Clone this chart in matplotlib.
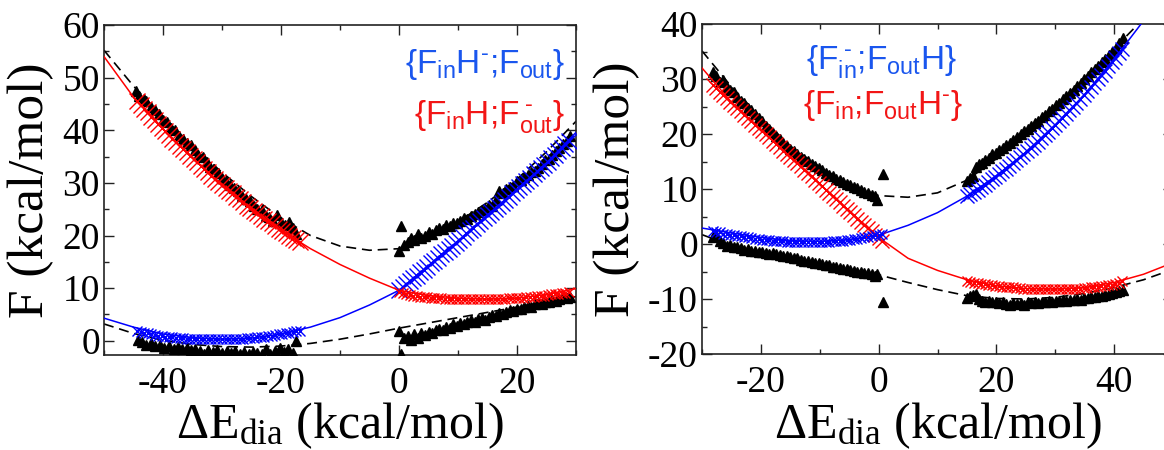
import matplotlib
matplotlib.use("Agg")
import matplotlib.pyplot as plt
from matplotlib.ticker import MultipleLocator

plt.rcParams['font.family'] = ['Liberation Serif', 'DejaVu Serif']
plt.rcParams['mathtext.fontset'] = 'custom'
plt.rcParams['mathtext.rm'] = 'Liberation Serif'
plt.rcParams['mathtext.sf'] = 'Liberation Sans'
plt.rcParams['mathtext.it'] = 'Liberation Serif:italic'
plt.rcParams['axes.unicode_minus'] = False

# ---------------- LEFT PANEL DATA ----------------
L_grid = [-50, -45, -40, -35, -30, -25, -20, -15, -10, -5, 0, 5, 10, 15, 20, 25, 30]
L_red_line = [54.0, 46.3, 40.2, 34.7, 29.6, 25.0, 21.0, 17.5, 14.5, 11.9, 9.6, 8.6, 8.1, 7.9, 8.1, 8.8, 9.9]
L_blue_line = [4.3, 2.6, 1.3, 0.6, 0.3, 0.5, 1.3, 2.6, 4.4, 6.8, 9.6, 14.3, 19.0, 23.9, 28.8, 33.8, 39.6]
L_dash_up = [55.2, 48.4, 42.5, 37.0, 32.0, 27.4, 23.3, 20.0, 18.0, 17.2, 17.5, 19.6, 22.6, 26.3, 30.7, 35.9, 41.7]
L_dash_lo = [3.2, 1.4, 0.1, -0.7, -1.1, -1.2, -1.0, -0.5, 0.3, 1.3, 2.4, 3.4, 4.4, 5.4, 6.4, 7.4, 8.4]

L_left_x = [-44.4, -43.8, -43.2, -42.6, -42.0, -41.4, -40.8, -40.2, -39.6, -39.0, -38.4, -37.8,
            -37.2, -36.6, -36.0, -35.4, -34.8, -34.2, -33.6, -33.0, -32.4, -31.8, -31.2, -30.6,
            -30.0, -29.4, -28.8, -28.2, -27.6, -27.0, -26.4, -25.8, -25.2, -24.6, -24.0, -23.4,
            -22.8, -22.2, -21.6, -21.0, -20.4, -19.8, -19.2, -18.6, -18.0, -17.4, -16.8]
L_red_cross_left = [45.6, 44.8, 44.1, 43.4, 42.6, 41.9, 41.2, 40.4, 39.8, 39.1, 38.4, 37.8,
                    37.1, 36.5, 35.8, 35.1, 34.5, 33.9, 33.3, 32.7, 32.0, 31.4, 30.8, 30.2,
                    29.6, 29.1, 28.5, 28.0, 27.4, 26.9, 26.3, 25.7, 25.2, 24.7, 24.2, 23.7,
                    23.2, 22.8, 22.3, 21.8, 21.3, 20.9, 20.4, 20.0, 19.6, 19.2, 18.8]
L_blue_cross_left = [1.8, 1.6, 1.5, 1.4, 1.3, 1.1, 1.0, 0.9, 0.8, 0.7, 0.7, 0.6,
                     0.5, 0.5, 0.4, 0.4, 0.4, 0.3, 0.3, 0.3, 0.3, 0.3, 0.3, 0.3,
                     0.3, 0.3, 0.3, 0.3, 0.4, 0.4, 0.4, 0.5, 0.5, 0.6, 0.7, 0.7,
                     0.8, 0.9, 1.0, 1.1, 1.2, 1.3, 1.4, 1.5, 1.6, 1.8, 1.9]

L_right_x = [0.0, 0.6, 1.2, 1.8, 2.4, 3.0, 3.6, 4.2, 4.8, 5.4, 6.0, 6.6, 7.2, 7.8, 8.4, 9.0,
             9.6, 10.2, 10.8, 11.4, 12.0, 12.6, 13.2, 13.8, 14.4, 15.0, 15.6, 16.2, 16.8, 17.4,
             18.0, 18.6, 19.2, 19.8, 20.4, 21.0, 21.6, 22.2, 22.8, 23.4, 24.0, 24.6, 25.2, 25.8,
             26.4, 27.0, 27.6, 28.2, 28.8]
L_blue_cross_right = [9.6, 10.2, 10.7, 11.3, 11.9, 12.4, 13.0, 13.5, 14.1, 14.7, 15.2, 15.8, 16.4,
                      16.9, 17.5, 18.1, 18.6, 19.2, 19.8, 20.4, 21.0, 21.5, 22.1, 22.7, 23.3, 23.9,
                      24.5, 25.1, 25.7, 26.2, 26.8, 27.4, 28.0, 28.6, 29.2, 29.8, 30.4, 31.0, 31.6,
                      32.2, 32.8, 33.4, 34.0, 34.7, 35.3, 36.0, 36.7, 37.3, 38.0]
L_red_cross_right = [9.3, 9.0, 8.9, 8.7, 8.6, 8.5, 8.4, 8.4, 8.3, 8.2, 8.2, 8.1, 8.1, 8.0, 8.0,
                     8.0, 7.9, 7.9, 7.9, 7.9, 7.9, 7.9, 7.9, 7.9, 7.9, 7.9, 7.9, 8.0, 8.0, 8.0,
                     8.0, 8.1, 8.1, 8.1, 8.2, 8.2, 8.3, 8.3, 8.4, 8.5, 8.5, 8.6, 8.7, 8.8, 8.8,
                     8.9, 9.0, 9.1, 9.2]

L_tri_ul_x = [-44.5, -44.0, -43.3, -42.8, -42.0, -41.3, -40.7, -40.0, -39.3, -38.6, -38.0, -37.3,
              -36.6, -36.0, -35.3, -34.6, -34.0, -33.3, -32.6, -32.0, -31.3, -30.6, -30.0, -29.3,
              -28.6, -28.0, -27.3, -26.6, -26.0, -25.3, -24.6, -24.0, -23.3, -22.6, -22.0, -21.3,
              -20.6, -20.0, -19.3, -18.6, -18.0, -17.4]
L_tri_ul_y = [47.5, 46.5, 46.0, 45.6, 44.5, 43.8, 43.0, 42.0, 41.5, 40.4, 40.0, 39.0,
              38.4, 37.6, 37.2, 36.2, 35.3, 35.0, 34.0, 33.0, 32.6, 31.8, 31.0, 30.3,
              29.6, 29.0, 28.5, 27.6, 27.0, 26.5, 25.6, 25.0, 24.8, 23.8, 23.5, 22.8,
              23.9, 22.5, 22.0, 22.6, 21.5, 20.3]
L_tri_ll_x = [-44.2, -43.5, -42.8, -42.0, -41.3, -40.5, -39.8, -39.0, -38.2, -37.5, -36.8, -36.0,
              -35.2, -34.5, -33.8, -33.0, -32.3, -31.5, -30.8, -30.0, -29.2, -28.5, -27.8, -27.0,
              -26.2, -25.5, -24.8, -24.0, -23.2, -22.5, -21.8, -21.0, -20.2, -19.5, -18.8, -18.0,
              -17.4]
L_tri_ll_y = [0.2, -0.3, -0.8, -0.5, -1.0, -0.8, -1.3, -1.0, -1.5, -1.2, -1.6, -1.4,
              -1.8, -1.5, -2.0, -2.6, -1.8, -2.2, -1.7, -2.3, -1.9, -2.4, -2.0, -2.5,
              -2.2, -2.6, -2.1, -2.4, -2.5, -1.5, -2.6, -2.0, -1.3, -2.2, -1.6, -2.3,
              -0.1]
L_tri_r_x = [0.0, 0.4, 0.9, 1.5, 2.0, 2.6, 3.2, 3.8, 4.4, 5.0, 5.6, 6.2, 6.8, 7.4, 8.0, 8.6,
             9.2, 9.8, 10.4, 11.0, 11.6, 12.2, 12.8, 13.4, 14.0, 14.6, 15.2, 15.8, 16.4, 17.0,
             17.6, 18.2, 18.8, 19.4, 20.0, 20.6, 21.2, 21.8, 22.4, 23.0, 23.6, 24.2, 24.8, 25.4,
             26.0, 26.6, 27.2, 27.8, 28.4, 29.0]
L_tri_lr_y = [1.8, -2.6, 0.5, 0.9, 0.2, 1.3, 0.5, 1.5, 1.1, 1.7, 1.4, 2.0, 2.3, 2.0, 2.7, 2.5,
              3.1, 2.9, 3.4, 3.2, 3.5, 3.9, 3.6, 4.1, 4.3, 4.0, 4.6, 4.9, 4.7, 5.2,
              5.0, 5.5, 5.8, 5.6, 6.1, 6.0, 6.4, 6.7, 6.5, 6.9, 7.1, 6.9, 7.4, 7.3,
              7.7, 7.6, 8.0, 8.3, 8.1, 8.4]
L_tri_ur_y = [17.1, 21.8, 18.2, 18.8, 19.6, 19.2, 20.3, 19.6, 20.0, 20.6, 20.2, 21.0, 21.5, 21.2,
              22.0, 21.8, 22.4, 22.3, 22.8, 23.3, 23.2, 23.8, 24.1, 24.5, 24.9, 25.0, 25.8, 25.7,
              26.8, 28.4, 28.1, 28.8, 29.3, 29.4, 30.3, 30.6, 31.2, 31.5, 32.0, 32.3, 32.8, 33.5,
              34.4, 34.5, 35.3, 36.0, 36.6, 37.3, 38.0, 39.0]

# ---------------- RIGHT PANEL DATA ----------------
R_grid = [-30, -25, -20, -15, -10, -5, 0, 5, 10, 15, 20, 25, 30, 35, 40, 45, 50]
R_red_line = [32.0, 25.8, 20.8, 15.8, 10.9, 6.0, 1.2, -2.6, -4.8, -6.5, -7.6, -8.1, -8.2, -7.9, -7.0, -5.5, -3.4]
R_blue_line = [2.9, 2.0, 1.2, 0.6, 0.5, 0.8, 1.6, 3.4, 5.7, 8.7, 12.4, 16.7, 21.7, 27.2, 33.6, 40.6, 48.0]
R_dash_up = [35.1, 28.6, 23.0, 17.8, 14.0, 10.9, 8.8, 8.5, 9.3, 11.6, 15.5, 20.0, 25.0, 30.2, 35.5, 41.0, 47.0]
R_dash_lo = [1.7, -0.3, -1.7, -2.8, -3.8, -4.7, -5.6, -7.0, -8.3, -9.4, -9.9, -10.0, -9.7, -9.0, -7.9, -6.5, -4.6]

R_left_x = [-28.2, -27.6, -27.0, -26.4, -25.8, -25.2, -24.6, -24.0, -23.4, -22.8, -22.2, -21.6,
            -21.0, -20.4, -19.8, -19.2, -18.6, -18.0, -17.4, -16.8, -16.2, -15.6, -15.0, -14.4,
            -13.8, -13.2, -12.6, -12.0, -11.4, -10.8, -10.2, -9.6, -9.0, -8.4, -7.8, -7.2,
            -6.6, -6.0, -5.4, -4.8, -4.2, -3.6, -3.0, -2.4, -1.8, -1.2, -0.6, 0.0, 0.6]
R_red_cross_left = [28.9, 28.3, 27.7, 27.1, 26.5, 25.9, 25.3, 24.7, 24.1, 23.5, 22.9, 22.3,
                    21.7, 21.1, 20.6, 20.0, 19.4, 18.8, 18.2, 17.6, 17.0, 16.4, 15.8, 15.2,
                    14.7, 14.1, 13.5, 12.9, 12.3, 11.7, 11.1, 10.5, 9.9, 9.3, 8.8, 8.2,
                    7.6, 7.0, 6.4, 5.8, 5.2, 4.6, 4.0, 3.4, 2.9, 2.3, 1.7, 1.1, 0.6]
R_blue_cross_left = [2.4, 2.2, 2.1, 1.9, 1.8, 1.7, 1.6, 1.5, 1.4, 1.3, 1.2, 1.1,
                     1.0, 0.9, 0.8, 0.8, 0.7, 0.6, 0.6, 0.5, 0.5, 0.4, 0.4, 0.4,
                     0.3, 0.3, 0.3, 0.3, 0.3, 0.3, 0.4, 0.4, 0.4, 0.4, 0.5, 0.5,
                     0.6, 0.6, 0.7, 0.8, 0.9, 1.0, 1.1, 1.2, 1.3, 1.4, 1.6, 1.7, 1.9]

R_right_x = [15.0, 15.6, 16.2, 16.8, 17.4, 18.0, 18.6, 19.2, 19.8, 20.4, 21.0, 21.6, 22.2, 22.8,
             23.4, 24.0, 24.6, 25.2, 25.8, 26.4, 27.0, 27.6, 28.2, 28.8, 29.4, 30.0, 30.6, 31.2,
             31.8, 32.4, 33.0, 33.6, 34.2, 34.8, 35.4, 36.0, 36.6, 37.2, 37.8, 38.4, 39.0, 39.6,
             40.2, 40.8, 41.4]
R_blue_cross_right = [8.7, 9.1, 9.5, 9.9, 10.4, 10.8, 11.3, 11.8, 12.2, 12.7, 13.2, 13.7, 14.2, 14.7,
                      15.3, 15.8, 16.3, 16.9, 17.5, 18.0, 18.6, 19.2, 19.8, 20.4, 21.1, 21.7, 22.3,
                      23.0, 23.6, 24.3, 25.0, 25.7, 26.4, 27.1, 27.8, 28.5, 29.2, 30.0, 30.8, 31.5,
                      32.3, 33.1, 33.9, 34.7, 35.5]
R_red_cross_right = [-6.8, -6.9, -7.0, -7.1, -7.2, -7.3, -7.4, -7.5, -7.6, -7.7, -7.8, -7.8, -7.9,
                     -7.9, -8.0, -8.0, -8.1, -8.1, -8.1, -8.2, -8.2, -8.2, -8.2, -8.2, -8.2, -8.2,
                     -8.2, -8.2, -8.2, -8.2, -8.1, -8.1, -8.1, -8.0, -8.0, -7.9, -7.9, -7.8, -7.7,
                     -7.6, -7.5, -7.4, -7.2, -7.0, -6.7]

R_tri_l_x = [-28.2, -27.6, -27.0, -26.4, -25.8, -25.2, -24.6, -24.0, -23.4, -22.8, -22.2, -21.6,
             -21.0, -20.4, -19.8, -19.2, -18.6, -18.0, -17.4, -16.8, -16.2, -15.6, -15.0, -14.4,
             -13.8, -13.2, -12.6, -12.0, -11.4, -10.8, -10.2, -9.6, -9.0, -8.4, -7.8, -7.2,
             -6.6, -6.0, -5.4, -4.8, -4.2, -3.6, -3.0, -2.4, -1.8, -1.2, -0.6, -0.2, 0.7]
R_tri_ul_y = [31.3, 30.6, 29.4, 29.8, 28.6, 28.0, 27.6, 26.8, 26.0, 25.6, 24.8, 24.3,
              23.6, 23.0, 22.3, 21.5, 21.0, 20.2, 19.6, 19.1, 18.4, 17.9, 17.3, 16.9,
              16.4, 15.9, 15.5, 15.1, 14.6, 14.1, 13.8, 13.4, 13.0, 12.6, 12.3, 11.9,
              11.6, 11.3, 11.0, 10.7, 10.3, 10.1, 9.8, 9.4, 9.3, 9.0, 8.7, 8.0, 12.8]
R_tri_ll_y = [1.3, 1.6, 0.6, 0.2, -0.4, -0.2, -0.6, -0.5, -0.8, -1.0, -0.9, -1.2,
              -1.3, -1.5, -1.4, -1.6, -1.8, -1.7, -1.9, -2.0, -2.2, -2.1, -2.4, -2.5,
              -2.6, -2.9, -3.0, -3.0, -3.3, -3.4, -3.5, -3.6, -3.8, -3.9, -4.1, -4.2,
              -4.3, -4.5, -4.6, -4.7, -4.9, -5.0, -5.1, -5.3, -5.2, -5.5, -5.8, -5.4, -10.5]
R_tri_r_x = [15.0, 15.5, 16.0, 16.5, 17.0, 17.5, 18.1, 18.7, 19.3, 19.9, 20.5, 21.1, 21.7, 22.3,
             22.9, 23.5, 24.1, 24.7, 25.3, 25.9, 26.5, 27.1, 27.7, 28.3, 28.9, 29.5, 30.1, 30.7,
             31.3, 31.9, 32.5, 33.1, 33.7, 34.3, 34.9, 35.5, 36.1, 36.7, 37.3, 37.9, 38.5, 39.1,
             39.7, 40.3, 40.9, 41.5]
R_tri_ur_y = [11.4, 12.0, 12.3, 14.0, 14.6, 14.8, 15.2, 15.6, 16.3, 16.5, 17.1, 17.4, 18.0, 18.4,
              19.0, 19.4, 20.0, 20.5, 21.0, 21.4, 22.0, 22.4, 23.1, 23.5, 24.1, 24.6, 25.2, 25.7,
              26.3, 26.9, 27.5, 28.0, 28.8, 29.3, 30.0, 30.5, 31.2, 31.8, 32.4, 33.1, 33.7, 34.4,
              35.0, 35.6, 36.5, 37.5]
R_tri_lr_y = [-9.8, -9.4, -9.2, -9.0, -10.0, -10.4, -10.6, -10.3, -10.6, -10.5, -10.8, -10.6, -10.9,
              -11.0, -10.7, -10.9, -10.8, -11.0, -10.6, -10.8, -10.6, -10.7, -10.5, -10.6, -10.4,
              -10.5, -10.3, -10.4, -10.2, -10.3, -10.1, -10.2, -10.0, -10.1, -9.9, -9.8, -9.7,
              -9.6, -9.5, -9.4, -9.2, -9.1, -8.9, -8.7, -8.6, -8.4]

HY = '\u2010'   # short hyphen used as charge sign
SC = '\u037e'   # semicolon glyph without mathtext punctuation spacing
L_legend = [r'$\mathsf{\{F_{in}H^{' + HY + r'}' + SC + r'F_{out}\}}$',
            r'$\mathsf{\{F_{in}H' + SC + r'F_{out}^{\ ' + HY + r'}\}}$']
R_legend = [r'$\mathsf{\{F_{in}^{\ ' + HY + r'}' + SC + r'F_{out}H\}}$',
            r'$\mathsf{\{F_{in}' + SC + r'F_{out}H^{' + HY + r'}\}}$']
y_label = 'F (kcal/mol)'
x_label = r'ΔE$_{\mathrm{dia}}$ (kcal/mol)'

RED = '#ff0000'
BLUE = '#0000ff'
TXT_BLUE = '#1a56ee'
TXT_RED = '#f21616'

W, H = 1164, 450
fig = plt.figure(figsize=(W / 100, H / 100), dpi=100)
axL = fig.add_axes([104 / W, 1 - 355 / H, 472 / W, 330 / H])
axR = fig.add_axes([702 / W, 1 - 354 / H, 471 / W, 330 / H])


def draw(ax, grid, red_line, blue_line, dash_up, dash_lo, tris, crosses):
    dash = (0, (6, 3.5))
    ax.plot(grid, dash_up, color='black', lw=1.2, ls=dash, zorder=2)
    ax.plot(grid, dash_lo, color='black', lw=1.2, ls=dash, zorder=2)
    for tx, ty in tris:
        ax.plot(tx, ty, ls='none', marker='^', ms=6.5, color='black', zorder=3)
    ax.plot(grid, red_line, color=RED, lw=1.1, zorder=4)
    ax.plot(grid, blue_line, color=BLUE, lw=1.1, zorder=4)
    for cx, cy, col, ms in crosses:
        ax.plot(cx, cy, ls='none', marker='x', ms=ms, mew=1.0, color=col, zorder=5)


draw(axL, L_grid, L_red_line, L_blue_line, L_dash_up, L_dash_lo,
     [(L_tri_ul_x, L_tri_ul_y), (L_tri_ll_x, L_tri_ll_y),
      (L_tri_r_x, L_tri_lr_y), (L_tri_r_x, L_tri_ur_y)],
     [(L_left_x, L_red_cross_left, RED, 11), (L_left_x, L_blue_cross_left, BLUE, 7),
      (L_right_x, L_blue_cross_right, BLUE, 11), (L_right_x, L_red_cross_right, RED, 7)])

draw(axR, R_grid, R_red_line, R_blue_line, R_dash_up, R_dash_lo,
     [(R_tri_l_x, R_tri_ul_y), (R_tri_l_x, R_tri_ll_y),
      (R_tri_r_x, R_tri_ur_y), (R_tri_r_x, R_tri_lr_y)],
     [(R_left_x, R_red_cross_left, RED, 10), (R_left_x, R_blue_cross_left, BLUE, 7),
      (R_right_x, R_blue_cross_right, BLUE, 10), (R_right_x, R_red_cross_right, RED, 7)])

axL.set_xlim(-50, 30)
axL.set_ylim(-2.7, 60)
axR.set_xlim(-30, 50)
axR.set_ylim(-20, 40)

for ax in (axL, axR):
    ax.xaxis.set_major_locator(MultipleLocator(20))
    ax.xaxis.set_minor_locator(MultipleLocator(10))
    ax.yaxis.set_major_locator(MultipleLocator(10))
    ax.yaxis.set_minor_locator(MultipleLocator(5))
    ax.tick_params(which='both', direction='in', top=True, right=True, width=1.0, color='#222222')
    ax.tick_params(which='major', length=7)
    ax.tick_params(which='minor', length=3.5)
    ax.tick_params(axis='x', which='major', labelsize=27, pad=8)
    ax.tick_params(axis='y', which='major', labelsize=27, pad=3)
    for s in ax.spines.values():
        s.set_linewidth(1.2)
        s.set_color('#222222')
    ax.set_ylabel(y_label, fontsize=37)
    ax.set_xlabel(x_label, fontsize=36)
    ax.yaxis.label.set_va('center')
    ax.xaxis.label.set_va('baseline')

axL.yaxis.set_label_coords(-0.155, 0.5)
axR.yaxis.set_label_coords(-0.18, 0.5)
axL.xaxis.set_label_coords(0.5, -0.252)
axR.xaxis.set_label_coords(0.5, -0.255)

axL.text(0.977, 0.879, L_legend[0], transform=axL.transAxes, ha='right', va='center',
         color=TXT_BLUE, fontsize=24)
axL.text(0.977, 0.724, L_legend[1], transform=axL.transAxes, ha='right', va='center',
         color=TXT_RED, fontsize=24)
axR.text(0.382, 0.885, R_legend[0], transform=axR.transAxes, ha='center', va='center',
         color=TXT_BLUE, fontsize=24)
axR.text(0.385, 0.752, R_legend[1], transform=axR.transAxes, ha='center', va='center',
         color=TXT_RED, fontsize=24)

fig.savefig('out.png', dpi=100)
